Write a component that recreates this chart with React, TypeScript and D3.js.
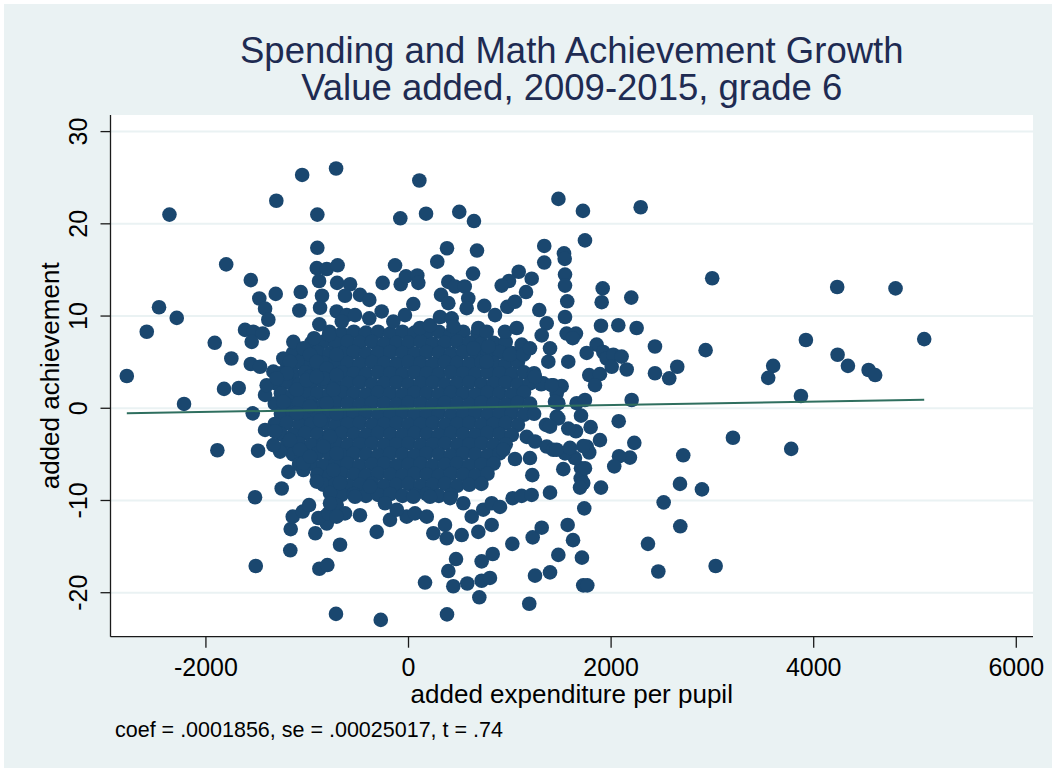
import React from 'react';
import * as d3 from 'd3';

type Pt = [number, number];

const titleLines = ['Spending and Math Achievement Growth', 'Value added, 2009-2015, grade 6'];
const xLabel = 'added expenditure per pupil';
const yLabel = 'added achievement';
const noteText = 'coef = .0001856, se = .00025017, t = .74';
const xTicks = [-2000, 0, 2000, 4000, 6000];
const yTicks = [-20, -10, 0, 10, 20, 30];
const fitCoef = 0.0001856;
const fitConst = -0.03;

// Scattered schools, upper-left part
const upperLeft: Pt[] = [
  [-2360, 21.0], [-1050, 25.3], [-715, 26.0], [-1305, 22.5], [-900, 21.0], [-900, 17.4], [-1800, 15.6],
  [-1557, 13.9], [-906, 15.2], [-807, 15.1], [-700, 15.5], [-883, 13.8], [-705, 13.6], [-1473, 11.9],
  [-1311, 12.4], [-1064, 12.6], [-854, 12.2], [-1416, 10.8], [-1078, 10.6], [-873, 10.9], [-2463, 10.95],
  [-2288, 9.8], [-2584, 8.3], [-1384, 9.6], [-1614, 8.5], [-1532, 8.3], [-1439, 8.1], [-1548, 7.2],
  [-1913, 7.1], [-880, 9.1], [-709, 10.5], [-785, 7.95], [-933, 7.6], [-1137, 7.2], [-1749, 5.4],
  [-1557, 4.8], [-1466, 4.5], [-2781, 3.5], [-1236, 5.4], [-1170, 5.05], [-1334, 3.97], [-1202, 3.8],
  [-1038, 6.5], [-972, 5.8], [-906, 5.05], [-807, 4.3], [-709, 5.8], [-972, 3.4], [-841, 3.25], [-709, 3.6],
  [-577, 13.45], [-627, 12.2], [-479, 12.3], [-387, 11.75], [-255, 13.6], [-610, 10.1], [-528, 10.1],
  [-659, 9.4], [-387, 9.75], [-265, 10.5], [-150, 9.4], [-133, 15.5],
];

// Scattered schools, upper-middle and upper-right part
const upperRight: Pt[] = [
  [107, 24.7], [-81, 20.6], [173, 21.1], [501, 21.3], [646, 20.3], [380, 17.35], [676, 17.1], [284, 15.9],
  [637, 14.6], [1340, 17.6], [1340, 15.8], [1088, 14.8], [1216, 14.05], [992, 13.8], [920, 13.3],
  [1160, 12.6], [-77, 13.45], [-25, 14.3], [87, 14.4], [97, 13.6], [47, 11.3], [393, 13.7], [459, 13.2],
  [555, 13.2], [321, 12.3], [393, 11.4], [590, 11.9], [574, 10.85], [748, 11.1], [975, 11.0], [1051, 11.55],
  [1291, 10.65], [1364, 9.2], [1315, 7.9], [1397, 6.5], [1380, 5.05], [-35, 10.1], [113, 8.7], [212, 9.0],
  [311, 9.9], [426, 9.75], [444, 8.85], [689, 8.7], [772, 8.3], [854, 10.1], [788, 6.7], [952, 8.3],
  [1068, 8.7], [1117, 6.9], [1002, 5.8], [1133, 5.8], [1199, 6.5], [640, 6.5], [772, 5.05],
  [1480, 22.7], [1722, 21.4], [2292, 21.8], [1742, 18.2], [1535, 16.8], [1542, 16.2], [1545, 14.5],
  [1545, 13.3], [1567, 11.6], [1545, 9.9], [1917, 13.0], [1907, 11.5], [2199, 12.0], [2998, 14.1],
  [1900, 8.95], [2071, 9.0], [2252, 8.7], [1561, 8.1], [1653, 8.1], [1621, 7.6], [1857, 6.9], [1759, 6.0],
  [1923, 6.1], [1956, 5.4], [2022, 5.8], [2104, 5.6], [2154, 4.2], [2006, 4.5], [2433, 6.7], [2933, 6.3],
  [2653, 4.5], [2433, 3.8], [2574, 3.25], [1784, 3.6], [1890, 3.7], [3600, 4.6], [3551, 3.3], [1577, 5.05],
  [4232, 13.15], [4808, 13.0], [3923, 7.4], [5091, 7.5], [4236, 5.8], [4338, 4.6], [4542, 4.15], [4607, 3.6],
  [3874, 1.33], [3778, -4.4], [1841, 2.5], [1429, 2.5], [1512, 2.4], [1463, 1.6], [1330, 2.7], [1413, 2.5],
  [1249, 3.4],
];

// Scattered schools, lower part
const lowerPoints: Pt[] = [
  [-1821, 2.1], [-1676, 2.2], [-2216, 0.47], [-1538, -0.55], [-1887, -4.55], [-1485, -4.6], [-1515, -9.65],
  [-1508, -17.1], [-1167, -15.4], [-880, -17.4], [-801, -17.0], [-716, -22.3], [-1252, -8.7], [-1163, -13.1],
  [-1143, -11.75], [-1044, -11.2], [-982, -10.5], [-920, -13.55], [-824, -11.75], [-807, -12.5],
  [-1186, -6.9], [-1038, -6.7], [-906, -7.95], [-775, -9.2], [-676, -14.8], [-1416, -2.35], [-1318, -2.5],
  [-1268, -4.7], [-1334, -4.0], [-1170, -3.45], [-1071, -4.5], [-1038, -5.95], [-972, -5.25], [-1416, 1.45],
  [-1400, 2.5], [-1301, 3.25], [-1103, 2.0], [-1236, 0.7], [-1005, 3.05], [-906, 3.4], [-1103, -0.55],
  [-972, 0.2], [-873, -1.3], [-775, -3.1], [-841, -4.15], [-742, -6.7], [-709, -4.9], [-742, 2.0],
  [-807, 0.55], [-709, -0.55], [-890, -11.9], [-791, -11.4], [-709, -10.5], [-676, -8.1],
  [-274, -22.95], [380, -22.35], [163, -18.9], [699, -20.5], [1192, -21.2], [469, -16.35], [393, -17.65],
  [442, -19.3], [580, -19.0], [722, -18.7], [804, -18.4], [722, -16.6], [831, -15.8], [1025, -14.7],
  [1226, -14.0], [1315, -12.95], [1249, -18.15], [245, -13.55], [360, -12.65], [377, -14.1], [525, -13.75],
  [689, -13.4], [821, -12.65], [-314, -13.4], [-183, -12.1], [-479, -11.6], [-627, -11.4], [-709, -11.75],
  [-18, -11.75], [64, -11.4], [180, -11.75], [624, -11.75], [738, -11.0], [821, -10.3], [903, -10.7],
  [1028, -9.75], [1117, -9.5], [1216, -9.4], [1222, -7.25], [1199, -5.4], [1051, -5.5], [936, -4.5],
  [1167, -3.1], [1249, -3.6], [1364, -4.15], [1429, -4.5], [1357, -1.8], [1463, -0.9], [1479, 0.55],
  [541, -10.3], [410, -9.75], [212, -9.6], [47, -9.6], [-116, -11.0], [-232, -10.3], [-380, -8.5],
  [-528, -9.6], [-775, -10.3],
  [2203, 0.9], [2075, -1.4], [3203, -3.2], [2229, -3.75], [2186, -5.35], [2078, -5.2], [2031, -6.3],
  [2712, -5.1], [2680, -8.2], [2897, -8.8], [2519, -10.2], [2683, -12.8], [2364, -14.7], [2466, -17.7],
  [3032, -17.1], [1900, -8.6], [1735, -10.85], [1571, -12.65], [1624, -14.3], [1479, -15.9], [1712, -16.2],
  [1725, -19.2], [1765, -19.2], [1397, -17.8], [1397, -9.15], [1528, -6.6], [1703, -6.5], [1700, -7.6],
  [1725, -8.1], [1693, -8.6], [1742, -6.5], [1759, -4.15], [1784, -4.8], [1643, -5.4], [1545, -4.9],
  [1463, -4.5], [1594, -4.3], [1890, -3.45], [1725, -4.1], [1798, -2.05], [1653, -2.5], [1577, -2.2],
  [1703, -0.8], [1479, -1.1], [1397, -2.0], [1660, 0.55], [1742, 0.9], [1446, 0.7],
];

// Dense core of schools around zero
const corePoints: Pt[] = [
  [-780, 8.3], [-660, 8.1], [-540, 8.3], [-420, 8.2], [-300, 8.3], [-180, 8.1], [-60, 8.3], [60, 8.2], [180, 8.2], [300, 8.3], [420, 8.1], [540, 8.3], [680, 8.1],
  [-960, 7.1], [-840, 7.2], [-720, 7.0], [-600, 7.2], [-480, 7.1], [-360, 7.2], [-240, 7.0], [-120, 7.1], [0, 7.1], [120, 7.2], [240, 7.0], [360, 7.1], [480, 7.2], [600, 7.1], [720, 7.0], [840, 7.1], [960, 7.2],
  [-1140, 6.0], [-1020, 5.9], [-900, 6.1], [-780, 5.9], [-660, 6.0], [-540, 6.1], [-420, 5.9], [-300, 6.0], [-180, 6.1], [-60, 6.0], [60, 5.9], [180, 6.1], [300, 6.0], [420, 5.9], [540, 6.1], [660, 6.0], [780, 5.9], [900, 6.1], [1020, 6.0], [1140, 5.9],
  [-1200, 4.9], [-1080, 5.0], [-960, 4.8], [-840, 4.9], [-720, 5.0], [-600, 4.9], [-480, 4.8], [-360, 5.0], [-240, 4.9], [-120, 4.8], [0, 5.0], [120, 4.9], [240, 4.8], [360, 5.0], [480, 4.9], [600, 4.8], [720, 5.0], [840, 4.9], [960, 4.8], [1080, 5.0],
  [-1260, 3.8], [-1140, 3.7], [-1020, 3.9], [-900, 3.8], [-780, 3.7], [-660, 3.9], [-540, 3.8], [-420, 3.7], [-300, 3.9], [-180, 3.8], [-60, 3.7], [60, 3.9], [180, 3.8], [300, 3.7], [420, 3.9], [540, 3.8], [660, 3.7], [780, 3.9], [900, 3.8], [1020, 3.7], [1140, 3.9], [1240, 3.8],
  [-1310, 2.7], [-1200, 2.8], [-1080, 2.6], [-960, 2.7], [-840, 2.8], [-720, 2.6], [-600, 2.7], [-480, 2.8], [-360, 2.6], [-240, 2.7], [-120, 2.8], [0, 2.6], [120, 2.7], [240, 2.8], [360, 2.6], [480, 2.7], [600, 2.8], [720, 2.6], [840, 2.7], [960, 2.8], [1080, 2.6], [1200, 2.7], [1310, 2.6],
  [-1260, 1.6], [-1140, 1.5], [-1020, 1.7], [-900, 1.6], [-780, 1.5], [-660, 1.7], [-540, 1.6], [-420, 1.5], [-300, 1.7], [-180, 1.6], [-60, 1.5], [60, 1.7], [180, 1.6], [300, 1.5], [420, 1.7], [540, 1.6], [660, 1.5], [780, 1.7], [900, 1.6], [1020, 1.5], [1140, 1.7],
  [-1320, 0.5], [-1200, 0.4], [-1080, 0.6], [-960, 0.5], [-840, 0.4], [-720, 0.6], [-600, 0.5], [-480, 0.4], [-360, 0.6], [-240, 0.5], [-120, 0.4], [0, 0.6], [120, 0.5], [240, 0.4], [360, 0.6], [480, 0.5], [600, 0.4], [720, 0.6], [840, 0.5], [960, 0.4], [1080, 0.6], [1200, 0.5],
  [-1260, -0.6], [-1140, -0.5], [-1020, -0.7], [-900, -0.6], [-780, -0.5], [-660, -0.7], [-540, -0.6], [-420, -0.5], [-300, -0.7], [-180, -0.6], [-60, -0.5], [60, -0.7], [180, -0.6], [300, -0.5], [420, -0.7], [540, -0.6], [660, -0.5], [780, -0.7], [900, -0.6], [1020, -0.5], [1140, -0.7], [1240, -0.6],
  [-1320, -1.7], [-1200, -1.6], [-1080, -1.8], [-960, -1.7], [-840, -1.6], [-720, -1.8], [-600, -1.7], [-480, -1.6], [-360, -1.8], [-240, -1.7], [-120, -1.6], [0, -1.8], [120, -1.7], [240, -1.6], [360, -1.8], [480, -1.7], [600, -1.6], [720, -1.8], [840, -1.7], [960, -1.6], [1080, -1.8],
  [-1260, -2.8], [-1140, -2.9], [-1020, -2.7], [-900, -2.8], [-780, -2.9], [-660, -2.7], [-540, -2.8], [-420, -2.9], [-300, -2.7], [-180, -2.8], [-60, -2.9], [60, -2.7], [180, -2.8], [300, -2.9], [420, -2.7], [540, -2.8], [660, -2.9], [780, -2.7], [900, -2.8], [1020, -2.9],
  [-1200, -3.9], [-1080, -3.8], [-960, -4.0], [-840, -3.9], [-720, -3.8], [-600, -4.0], [-480, -3.9], [-360, -3.8], [-240, -4.0], [-120, -3.9], [0, -3.8], [120, -4.0], [240, -3.9], [360, -3.8], [480, -4.0], [600, -3.9], [720, -3.8], [840, -4.0], [960, -3.9],
  [-1140, -5.0], [-1020, -5.1], [-900, -4.9], [-780, -5.0], [-660, -5.1], [-540, -4.9], [-420, -5.0], [-300, -5.1], [-180, -4.9], [-60, -5.0], [60, -5.1], [180, -4.9], [300, -5.0], [420, -5.1], [540, -4.9], [660, -5.0], [780, -5.1], [900, -4.9],
  [-1080, -6.1], [-960, -6.0], [-840, -6.2], [-720, -6.1], [-600, -6.0], [-480, -6.2], [-360, -6.1], [-240, -6.0], [-120, -6.2], [0, -6.1], [120, -6.0], [240, -6.2], [360, -6.1], [480, -6.0], [600, -6.2], [720, -6.1], [840, -6.0],
  [-900, -7.2], [-780, -7.3], [-660, -7.1], [-540, -7.2], [-420, -7.3], [-300, -7.1], [-180, -7.2], [-60, -7.3], [60, -7.1], [180, -7.2], [300, -7.3], [420, -7.1], [540, -7.2], [660, -7.3], [780, -7.1],
  [-840, -8.3], [-720, -8.2], [-600, -8.4], [-480, -8.3], [-360, -8.2], [-240, -8.4], [-120, -8.3], [0, -8.2], [120, -8.4], [240, -8.3], [360, -8.2], [480, -8.4], [600, -8.3], [720, -8.2],
  [-660, -9.4], [-540, -9.3], [-420, -9.5], [-300, -9.4], [-180, -9.3], [-60, -9.5], [60, -9.4], [180, -9.3], [300, -9.5], [420, -9.4],
];

const FONT = 'Liberation Sans, Arial, Helvetica, sans-serif';

export default function App() {
  const W = 1055;
  const H = 771;
  const left = 110.5, right = 1033, top = 115, bottom = 636.7;

  const x = d3.scaleLinear().domain([-2942, 6165]).range([left, right]);
  const y = d3.scaleLinear().domain([-24.77, 31.8]).range([bottom, top]);

  const all: Pt[] = [...corePoints, ...upperLeft, ...upperRight, ...lowerPoints];
  const [xmin, xmax] = d3.extent(all, (d) => d[0]) as [number, number];
  const fitLine = d3
    .line<number>()
    .x((v) => x(v))
    .y((v) => y(fitConst + fitCoef * v));
  const fitPath = fitLine([xmin, xmax]) || '';

  const cx = (left + right) / 2;
  const cy = (top + bottom) / 2;

  return (
    <svg
      width={W}
      height={H}
      style={{ position: 'absolute', left: 0, top: 0, background: '#ffffff' }}
      fontFamily={FONT}
    >
      <rect x={4} y={4} width={W - 7} height={H - 7} fill="#eaf2f3" />
      <rect x={left} y={top} width={right - left} height={bottom - top} fill="#ffffff" />
      {yTicks.map((t) => (
        <line key={'g' + t} x1={left} x2={right} y1={y(t)} y2={y(t)} stroke="#eaf2f3" strokeWidth={2} />
      ))}
      <g>
        {all.map((d, i) => (
          <circle key={i} cx={x(d[0])} cy={y(d[1])} r={7.3} fill="#1a476f" />
        ))}
      </g>
      <path d={fitPath} fill="none" stroke="#2f6f5f" strokeWidth={2} />
      <line x1={left} x2={left} y1={top} y2={bottom} stroke="#1a1a1a" strokeWidth={1.3} />
      <line x1={left} x2={right} y1={bottom} y2={bottom} stroke="#1a1a1a" strokeWidth={1.3} />
      {yTicks.map((t) => (
        <g key={'yt' + t}>
          <line x1={left - 10} x2={left} y1={y(t)} y2={y(t)} stroke="#1a1a1a" strokeWidth={1.3} />
          <text
            transform={`translate(87,${y(t)}) rotate(-90)`}
            textAnchor="middle"
            fontSize={25}
            fill="#000"
          >
            {t}
          </text>
        </g>
      ))}
      {xTicks.map((t) => (
        <g key={'xt' + t}>
          <line x1={x(t)} x2={x(t)} y1={bottom} y2={bottom + 11} stroke="#1a1a1a" strokeWidth={1.3} />
          <text x={x(t)} y={676} textAnchor="middle" fontSize={25} fill="#000">
            {t}
          </text>
        </g>
      ))}
      <text x={cx} y={703} textAnchor="middle" fontSize={26} fill="#000">
        {xLabel}
      </text>
      <text transform={`translate(59,${cy}) rotate(-90)`} textAnchor="middle" fontSize={26} fill="#000">
        {yLabel}
      </text>
      {titleLines.map((s, i) => (
        <text key={s} x={cx} y={63 + i * 37} textAnchor="middle" fontSize={36.5} fill="#1e2b52">
          {s}
        </text>
      ))}
      <text x={115} y={737} fontSize={21.5} fill="#000">
        {noteText}
      </text>
    </svg>
  );
}
